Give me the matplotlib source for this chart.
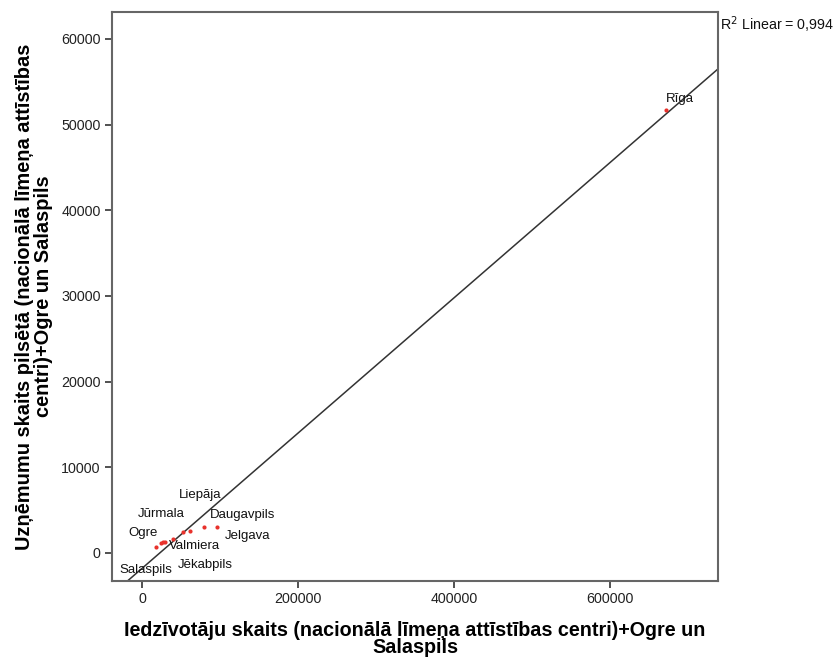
import numpy as np
import matplotlib
matplotlib.use("Agg")
import matplotlib.pyplot as plt

plt.rcParams['font.family'] = ['Liberation Sans', 'DejaVu Sans']

# iedzivotaji (x) un uznemumi (y)
cities = ["Salaspils", "Ogre", "Jēkabpils", "Valmiera", "", "Jūrmala",
          "Jelgava", "Liepāja", "Daugavpils", "Rīga"]
population = [18000, 24000, 27000, 29500, 40000, 52500, 61500, 79500, 96000, 672000]
companies = [700, 1170, 1280, 1280, 1630, 2450, 2570, 3030, 3030, 51700]
r2_text = "0,994"

# label offsets in pixels (placement only)
offsets = {"Salaspils": (-10, -23), "Ogre": (-18, 10), "Jēkabpils": (42, -23),
           "Valmiera": (29, -4), "Jūrmala": (-22, 18), "Jelgava": (58, -5),
           "Liepāja": (-4, 32), "Daugavpils": (26, 12), "Rīga": (14, 11)}

fig = plt.figure(figsize=(8.35, 6.59), dpi=100)
ax = fig.add_axes([0.1341, 0.1184, 0.7258, 0.8634])

ax.scatter(population, companies, s=9, color="#e8322c", zorder=3, linewidths=0)

xlim = (-38500, 738500)
ylim = (-3270, 63150)
k, b = np.polyfit(population, companies, 1)
xs = np.array(xlim)
ax.plot(xs, k * xs + b, color="#333333", lw=1.1, zorder=2)

for name, x, y in zip(cities, population, companies):
    if not name:
        continue
    ax.annotate(name, (x, y), xytext=offsets[name], textcoords="offset pixels",
                ha="center", va="center", fontsize=9.5, color="#111111")

ax.set_xlim(xlim)
ax.set_ylim(ylim)
ax.set_xticks([0, 200000, 400000, 600000])
ax.set_yticks([0, 10000, 20000, 30000, 40000, 50000, 60000])
ax.tick_params(direction="out", length=5, width=1.2, colors="#333333",
               labelsize=10.3, labelcolor="#222222", pad=3)
for s in ax.spines.values():
    s.set_color("#666666")
    s.set_linewidth(1.5)

ax.set_xlabel("Iedzīvotāju skaits (nacionālā līmeņa attīstības centri)+Ogre un\nSalaspils",
              fontsize=14.2, fontweight="bold", linespacing=0.85, labelpad=11)
ax.set_ylabel("Uzņēmumu skaits pilsētā (nacionālā līmeņa attīstības\ncentri)+Ogre un Salaspils",
              fontsize=14.4, fontweight="bold", linespacing=1.0, labelpad=6)

fig.text(0.862, 0.978, "R$^2$ Linear = " + r2_text, fontsize=10.3, va="top", ha="left",
         color="#111111")

fig.savefig("out.png", dpi=100)
